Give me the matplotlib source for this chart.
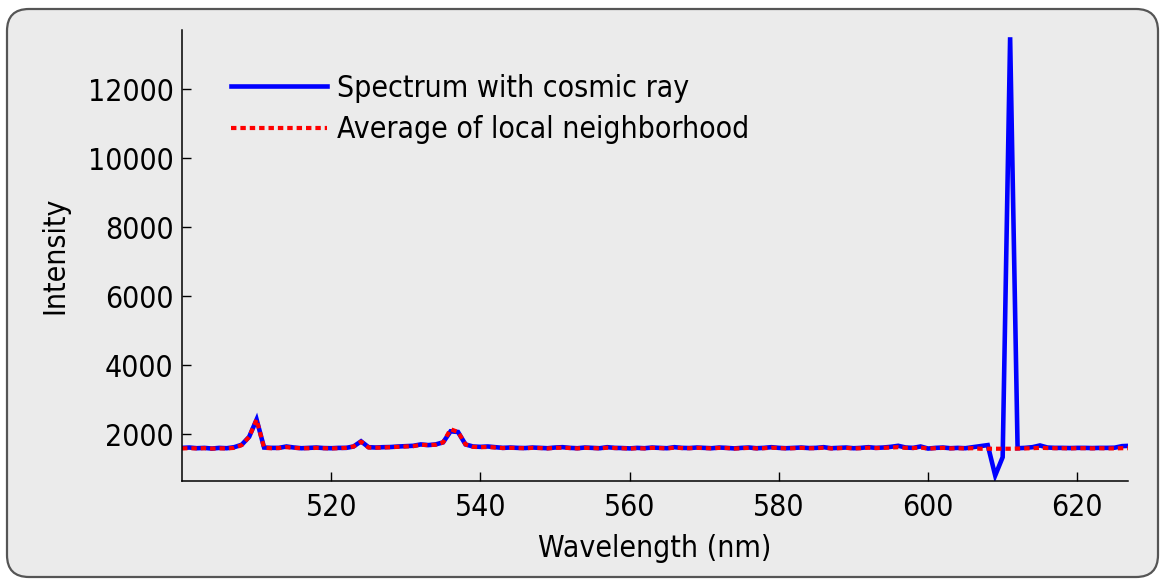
import matplotlib
matplotlib.use("Agg")
import matplotlib.pyplot as plt
from matplotlib.patches import FancyBboxPatch

wavelength = [
    500, 501, 502, 503, 504, 505, 506, 507, 508, 509, 510, 511, 512, 513, 514, 515,
    516, 517, 518, 519, 520, 521, 522, 523, 524, 525, 526, 527, 528, 529, 530, 531,
    532, 533, 534, 535, 536, 537, 538, 539, 540, 541, 542, 543, 544, 545, 546, 547,
    548, 549, 550, 551, 552, 553, 554, 555, 556, 557, 558, 559, 560, 561, 562, 563,
    564, 565, 566, 567, 568, 569, 570, 571, 572, 573, 574, 575, 576, 577, 578, 579,
    580, 581, 582, 583, 584, 585, 586, 587, 588, 589, 590, 591, 592, 593, 594, 595,
    596, 597, 598, 599, 600, 601, 602, 603, 604, 605, 606, 607, 608, 609, 610, 611,
    612, 613, 614, 615, 616, 617, 618, 619, 620, 621, 622, 623, 624, 625, 626, 627,
]

spectrum = [
    1600, 1610, 1590, 1600, 1580, 1600, 1590, 1620, 1690, 1920, 2420, 1610, 1600, 1600, 1640, 1610,
    1590, 1600, 1610, 1595, 1590, 1600, 1600, 1640, 1790, 1620, 1610, 1620, 1625, 1640, 1650, 1660,
    1700, 1680, 1700, 1760, 2080, 2060, 1700, 1640, 1630, 1640, 1620, 1600, 1610, 1600, 1595, 1610,
    1600, 1590, 1610, 1620, 1600, 1590, 1610, 1600, 1590, 1620, 1600, 1595, 1585, 1600, 1590, 1610,
    1600, 1590, 1620, 1600, 1595, 1610, 1600, 1590, 1610, 1600, 1585, 1600, 1610, 1590, 1600, 1620,
    1600, 1590, 1600, 1610, 1595, 1600, 1620, 1590, 1600, 1610, 1590, 1600, 1620, 1600, 1610, 1630,
    1660, 1610, 1600, 1640, 1580, 1600, 1610, 1590, 1600, 1590, 1620, 1650, 1680, 800, 1330, 13500,
    1590, 1600, 1620, 1670, 1610, 1600, 1600, 1595, 1600, 1600, 1595, 1600, 1600, 1605, 1650, 1660,
]

local_average = [
    1585, 1590, 1585, 1590, 1580, 1585, 1585, 1600, 1680, 1920, 2420, 1600, 1590, 1595, 1620, 1600,
    1590, 1590, 1600, 1590, 1585, 1590, 1600, 1640, 1780, 1610, 1605, 1610, 1620, 1630, 1640, 1650,
    1690, 1680, 1690, 1760, 2140, 2060, 1700, 1630, 1620, 1625, 1610, 1595, 1600, 1595, 1590, 1600,
    1595, 1585, 1600, 1605, 1595, 1585, 1600, 1595, 1585, 1605, 1595, 1590, 1580, 1590, 1585, 1600,
    1595, 1585, 1605, 1595, 1590, 1600, 1595, 1585, 1600, 1595, 1580, 1590, 1600, 1585, 1590, 1605,
    1595, 1585, 1590, 1600, 1590, 1590, 1605, 1585, 1590, 1600, 1585, 1590, 1605, 1595, 1600, 1610,
    1620, 1600, 1595, 1610, 1580, 1590, 1600, 1585, 1590, 1585, 1590, 1575, 1575, 1575, 1575, 1575,
    1580, 1585, 1590, 1600, 1595, 1590, 1590, 1585, 1590, 1590, 1585, 1590, 1585, 1585, 1590, 1590,
]

series_labels = ["Spectrum with cosmic ray", "Average of local neighborhood"]
xticks = [520, 540, 560, 580, 600, 620]
yticks = [2000, 4000, 6000, 8000, 10000, 12000]

plt.rcParams['font.family'] = ['DejaVu Sans']
plt.rcParams['font.stretch'] = 'condensed'
FS = 21.6

W, H = 1168, 579
fig = plt.figure(figsize=(W / 100, H / 100), dpi=100, facecolor='white')

bg = FancyBboxPatch((0.07, 0.02), 11.51, 5.68,
                    boxstyle="round,pad=0,rounding_size=0.22",
                    transform=fig.dpi_scale_trans,
                    facecolor='#ebebeb', edgecolor='#555555', linewidth=1.6,
                    zorder=0)
fig.add_artist(bg)

ax = fig.add_axes([182 / W, 1 - 481 / H, (1128 - 182) / W, (481 - 30) / H])
ax.set_facecolor('none')
ax.set_zorder(2)

ax.plot(wavelength, spectrum, color='#0000ff', lw=3.3, label=series_labels[0],
        solid_joinstyle='miter')
ax.plot(wavelength, local_average, color='#ff0000', lw=3.0,
        linestyle=(0, (1.3, 0.95)), label=series_labels[1])

ax.set_xlim(500, 626.8)
ax.set_ylim(640, 13710)
ax.set_xticks(xticks)
ax.set_yticks(yticks)

for s in ['top', 'right']:
    ax.spines[s].set_visible(False)
for s in ['left', 'bottom']:
    ax.spines[s].set_linewidth(1.1)
    ax.spines[s].set_color('black')

ax.tick_params(axis='both', direction='in', length=6.5, width=1.0,
               labelsize=FS, colors='black')
ax.tick_params(axis='x', pad=9)
ax.tick_params(axis='y', pad=6)

ax.set_xlabel("Wavelength (nm)", fontsize=FS, labelpad=8)
ax.set_ylabel("Intensity", fontsize=FS, labelpad=13)

leg = ax.legend(loc='upper left', bbox_to_anchor=(0.052, 0.903),
                frameon=False, fontsize=FS, handlelength=3.2,
                handletextpad=0.33, labelspacing=0.42,
                borderpad=0, borderaxespad=0)

fig.savefig("out.png", dpi=100, facecolor=fig.get_facecolor())
